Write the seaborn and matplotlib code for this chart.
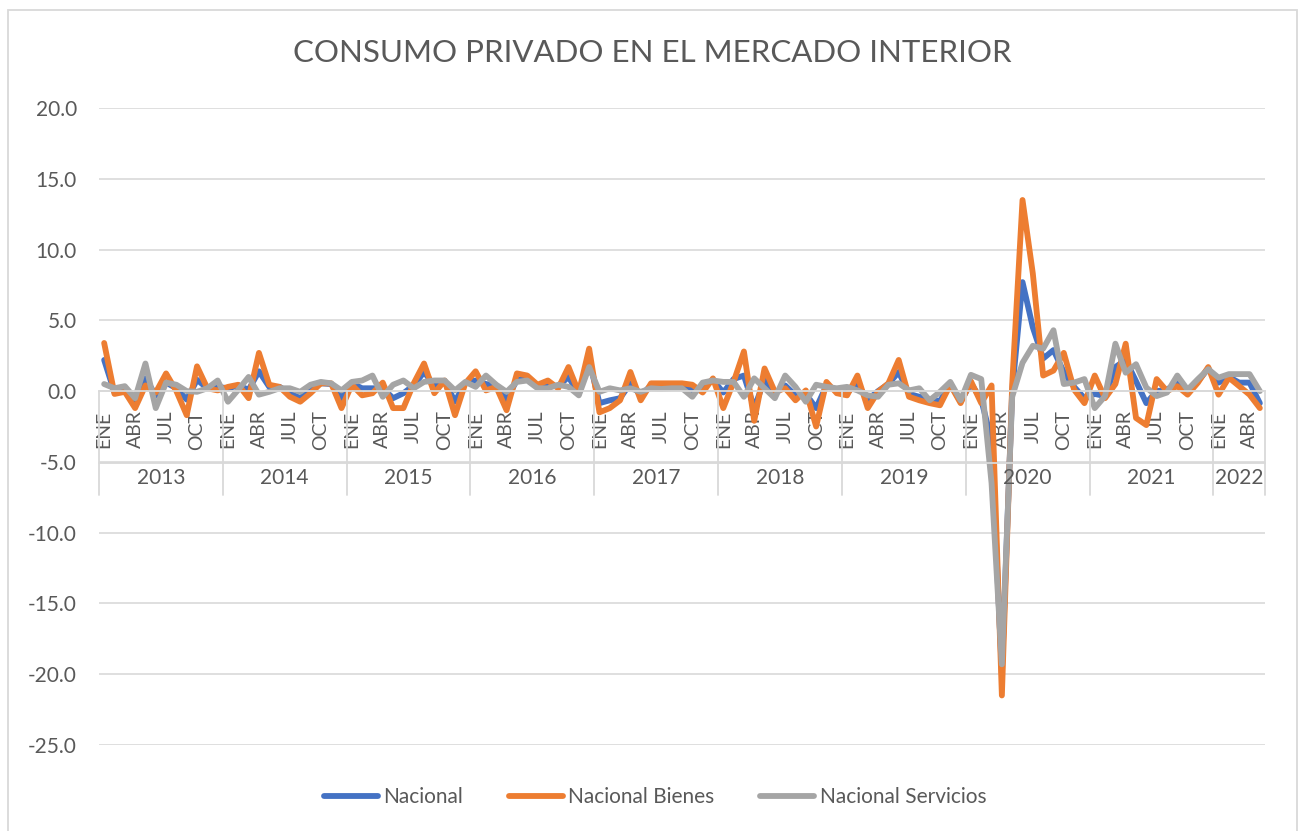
import numpy as np
import pandas as pd
import matplotlib
matplotlib.use("Agg")
import matplotlib.pyplot as plt
import matplotlib.transforms as mtransforms
from matplotlib.lines import Line2D
from matplotlib.patches import Rectangle
import seaborn as sns

# ---------------- data ----------------
years = ["2013", "2014", "2015", "2016", "2017", "2018", "2019", "2020", "2021", "2022"]
months = ["ENE", "FEB", "MAR", "ABR", "MAY", "JUN", "JUL", "AGO", "SEP", "OCT", "NOV", "DIC"]

nacional = [
    2.2, -0.1, 0.1, -0.8, 0.9, -0.3, 0.6, 0.2, -0.6, 0.8, 0.2, 0.3,
    0.2, 0.4, 0.1, 1.4, 0.3, 0.3, -0.15, -0.5, 0.1, 0.55, 0.5, -0.5,
    0.55, 0.2, 0.2, 0.2, -0.5, -0.15, 0.4, 1.35, 0.4, 0.7, -0.75, 0.6,
    0.75, 0.5, 0.4, -0.65, 0.8, 0.8, 0.3, 0.4, 0.35, 1.0, -0.2, 2.2,
    -0.85, -0.65, -0.5, 0.55, -0.3, 0.4, 0.4, 0.35, 0.3, 0.05, 0.3, 0.8,
    -0.1, 0.85, 1.1, -1.2, 0.8, -0.2, 0.4, -0.3, -0.2, -1.2, 0.4, 0.05,
    -0.1, 0.5, -0.6, 0.0, 0.5, 1.35, -0.2, -0.4, -0.6, -0.7, 0.5, -0.75,
    0.55, -0.6, -3.5, -20.0, 0.0, 7.7, 4.5, 2.3, 2.9, 1.35, 0.3, -0.5,
    -0.2, -0.35, 1.7, 2.2, 0.7, -0.85, 0.0, 0.1, 0.6, 0.0, 0.7, 1.6,
    0.6, 1.0, 0.6, 0.6, -0.85,
]
bienes = [
    3.4, -0.2, -0.05, -1.2, 0.4, -0.1, 1.25, 0.0, -1.7, 1.75, 0.2, 0.05,
    0.3, 0.45, -0.5, 2.7, 0.45, 0.3, -0.4, -0.75, -0.15, 0.55, 0.55, -1.2,
    0.45, -0.3, -0.15, 0.6, -1.2, -1.2, 0.55, 1.95, -0.15, 0.75, -1.7, 0.55,
    1.4, 0.05, 0.3, -1.35, 1.25, 1.1, 0.45, 0.75, 0.2, 1.7, -0.1, 3.0,
    -1.5, -1.2, -0.65, 1.35, -0.65, 0.55, 0.55, 0.55, 0.55, 0.45, -0.1, 0.9,
    -1.2, 0.65, 2.8, -2.1, 1.6, -0.05, 0.2, -0.65, 0.05, -2.5, 0.65, -0.15,
    -0.3, 1.1, -1.2, -0.05, 0.55, 2.2, -0.4, -0.65, -0.85, -1.0, 0.45, -0.85,
    0.7, -0.85, 0.4, -21.5, 0.5, 13.5, 8.3, 1.1, 1.45, 2.7, 0.1, -0.85,
    1.1, -0.5, 0.5, 3.35, -1.9, -2.4, 0.85, 0.0, 0.35, -0.25, 0.6, 1.7,
    -0.25, 0.95, 0.35, -0.25, -1.2,
]
servicios = [
    0.5, 0.2, 0.35, -0.5, 1.95, -1.2, 0.6, 0.45, 0.0, -0.05, 0.2, 0.75,
    -0.75, 0.1, 1.0, -0.25, -0.05, 0.2, 0.2, -0.05, 0.45, 0.65, 0.55, 0.05,
    0.65, 0.75, 1.1, -0.4, 0.45, 0.75, 0.2, 0.65, 0.75, 0.75, 0.05, 0.65,
    0.3, 1.1, 0.45, -0.05, 0.65, 0.75, 0.2, 0.2, 0.45, 0.3, -0.3, 1.7,
    -0.05, 0.2, 0.05, 0.2, -0.05, 0.2, 0.15, 0.2, 0.2, -0.4, 0.6, 0.75,
    0.65, 0.65, -0.4, 0.9, 0.2, -0.5, 1.1, 0.3, -0.75, 0.45, 0.3, 0.2,
    0.3, 0.05, -0.3, -0.4, 0.45, 0.55, 0.05, 0.2, -0.65, -0.05, 0.65, -0.65,
    1.15, 0.85, -6.5, -19.3, -0.4, 2.0, 3.2, 3.0, 4.3, 0.5, 0.6, 0.85,
    -1.2, -0.35, 3.35, 1.3, 1.9, 0.25, -0.35, -0.1, 1.1, 0.1, 0.85, 1.55,
    0.95, 1.2, 1.2, 1.2, 0.0,
]
series_names = ["Nacional", "Nacional Bienes", "Nacional Servicios"]
colors = ["#4472C4", "#ED7D31", "#A5A5A5"]
title = "CONSUMO PRIVADO EN EL MERCADO INTERIOR"

# ---------------- build table ----------------
n = len(nacional)
idx = np.arange(n)
month_lab = [months[i % 12] for i in idx]
df = pd.DataFrame({
    "idx": np.concatenate([idx, idx, idx]),
    "valor": np.concatenate([nacional, bienes, servicios]),
    "serie": np.repeat(series_names, n),
})

# ---------------- style ----------------
sns.set_theme(style="white")
plt.rcParams["font.family"] = ["Lato", "DejaVu Sans"]
txt_col = "#595959"
grid_col = "#D9D9D9"

W, H = 1300, 831
fig = plt.figure(figsize=(W / 100, H / 100), dpi=100)

# chart border
fig.patches.append(Rectangle((8 / W, -0.1), (1297 - 8) / W, 1.1 - 10 / H,
                             transform=fig.transFigure, fill=False,
                             edgecolor=grid_col, linewidth=1.3))

ax_left, ax_right, ax_top, ax_bot = 99, 1265, 108, 745
ax = fig.add_axes([ax_left / W, 1 - ax_bot / H, (ax_right - ax_left) / W, (ax_bot - ax_top) / H])
ax.set_facecolor("none")

sns.lineplot(data=df, x="idx", y="valor", hue="serie", hue_order=series_names,
             palette=colors, linewidth=4.2, ax=ax, legend=False, sort=False)
for ln in ax.get_lines():
    ln.set_solid_joinstyle("round")
    ln.set_solid_capstyle("round")

ax.set_xlim(-0.5, n - 0.5)
ax.set_ylim(-25, 20)
ax.set_yticks(np.arange(-25, 20.1, 5))
ax.set_yticklabels([f"{v:.1f}" for v in np.arange(-25, 20.1, 5)], fontsize=15, color=txt_col)
ax.yaxis.grid(True, color=grid_col, linewidth=1.2)
ax.set_axisbelow(True)
ax.tick_params(axis="y", length=0, pad=16)
ax.set_xlabel("")
ax.set_ylabel("")

for s in ["top", "right", "left"]:
    ax.spines[s].set_visible(False)
ax.spines["bottom"].set_position(("data", 0))
ax.spines["bottom"].set_color(grid_col)
ax.spines["bottom"].set_linewidth(1.3)

tick_pos = [i for i in idx if i % 3 == 0]
ax.set_xticks(tick_pos)
ax.set_xticklabels([month_lab[i] for i in tick_pos], rotation=90, fontsize=14,
                   color=txt_col, va="top", ha="center")
ax.tick_params(axis="x", length=0, pad=14)

# multi-level category axis: dividers and years
trans = mtransforms.blended_transform_factory(ax.transData, ax.transAxes)
axh = ax_bot - ax_top
def ypx(p):
    return (ax_bot - p) / axh
y_axis, y_mid, y_low, y_year = ypx(391), ypx(463), ypx(495), ypx(478)
ax.plot([-0.5, n - 0.5], [y_mid, y_mid], transform=trans, color=grid_col,
        linewidth=1.3, clip_on=False)
bounds = [-0.5]
for k, yr in enumerate(years):
    start = k * 12
    end = min(start + 12, n)
    bounds.append(end - 0.5)
    ax.text((start + end - 1) / 2, y_year, yr, transform=trans, ha="center", va="center",
            fontsize=15, color=txt_col)
for b in bounds:
    ax.plot([b, b], [y_axis, y_low], transform=trans, color=grid_col,
            linewidth=1.3, clip_on=False)

# title
fig.text(652 / W, 1 - 53 / H, title, ha="center", va="center", fontsize=22.5,
         color=txt_col, fontweight="normal")

# legend
handles = [Line2D([0], [0], color=c, linewidth=4.2, solid_capstyle="round") for c in colors]
fig.legend(handles, series_names, loc="center", bbox_to_anchor=(655 / W, 1 - 797 / H),
           ncol=3, frameon=False, fontsize=15, labelcolor=txt_col,
           handlelength=2.6, handletextpad=0.25, columnspacing=2.2)

fig.savefig("out.png", dpi=100)
